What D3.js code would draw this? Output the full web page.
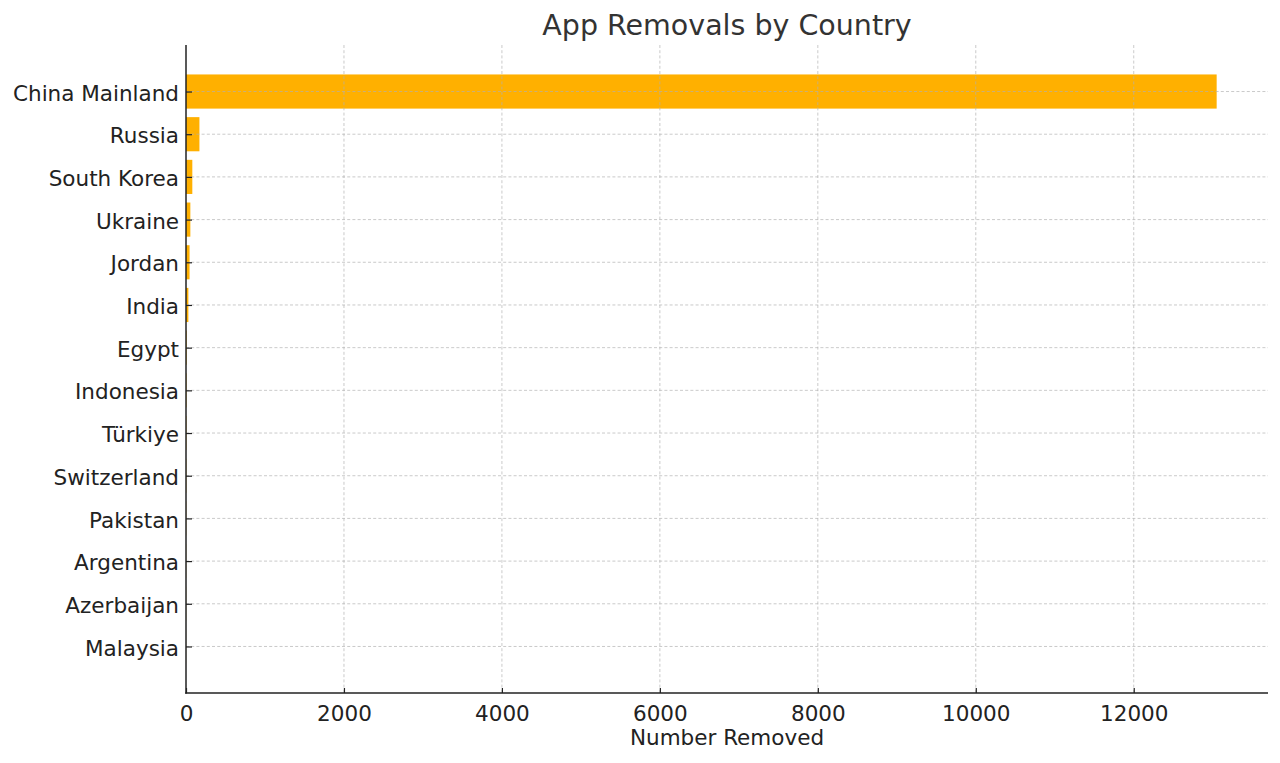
<!DOCTYPE html>
<html>
<head>
<meta charset="utf-8">
<script src="https://cdn.jsdelivr.net/npm/d3@7"></script>
<style>
  html, body { margin: 0; padding: 0; background: #fff; }
  svg { display: block; font-family: "DejaVu Sans", sans-serif; }
</style>
</head>
<body>
<svg id="chart" width="1280" height="763"></svg>
<script>
const countries = ["China Mainland", "Russia", "South Korea", "Ukraine", "Jordan", "India",
  "Egypt", "Indonesia", "Türkiye", "Switzerland", "Pakistan", "Argentina", "Azerbaijan", "Malaysia"];
const removed = [13050, 170, 80, 55, 45, 30, 8, 6, 5, 4, 3, 2, 2, 1];
const xTicks = [0, 2000, 4000, 6000, 8000, 10000, 12000];

const title = "App Removals by Country";
const xLabel = "Number Removed";

(function () {
const svg = d3.select("#chart");
const pl = 186, pr = 1268, pt = 45, pb = 693;

const x = d3.scaleLinear().domain([0, 13700]).range([pl, pr]);
const y = d3.scaleLinear().domain([-1.09, countries.length - 1 + 1.09]).range([pt, pb]);
const barH = y(0.4) - y(-0.4);

// bars
svg.append("g").selectAll("rect").data(countries).join("rect")
  .attr("x", x(0))
  .attr("y", (d, i) => y(i) - barH / 2)
  .attr("width", (d, i) => x(removed[i]) - x(0))
  .attr("height", barH)
  .attr("fill", "#ffb000");

// grid (drawn over bars)
const grid = svg.append("g").attr("stroke", "#b0b0b0").attr("stroke-opacity", 0.75)
  .attr("stroke-width", 0.9).attr("stroke-dasharray", "3,2.2");
grid.selectAll("line.v").data(xTicks.slice(1)).join("line").attr("class", "v")
  .attr("x1", d => x(d)).attr("x2", d => x(d)).attr("y1", pt).attr("y2", pb);
grid.selectAll("line.h").data(countries).join("line").attr("class", "h")
  .attr("x1", pl).attr("x2", pr).attr("y1", (d, i) => y(i)).attr("y2", (d, i) => y(i));

// x axis
const xAxis = d3.axisBottom(x).tickValues(xTicks).tickSizeInner(-5).tickSizeOuter(0).tickPadding(13).tickFormat(d3.format("d"));
const gx = svg.append("g").attr("transform", `translate(0,${pb})`).call(xAxis);
gx.select(".domain").remove();
gx.selectAll(".tick line").attr("stroke", "#222").attr("stroke-width", 1.2);
gx.selectAll(".tick text").attr("font-size", 21.5).attr("fill", "#222").attr("font-family", "DejaVu Sans");

// y axis
const yAxis = d3.axisLeft(y).tickValues(d3.range(countries.length)).tickFormat(i => countries[i])
  .tickSizeInner(-6).tickSizeOuter(0).tickPadding(7);
const gy = svg.append("g").attr("transform", `translate(${pl},0)`).call(yAxis);
gy.select(".domain").remove();
gy.selectAll(".tick line").attr("stroke", "#222").attr("stroke-width", 1.2);
gy.selectAll(".tick text").attr("font-size", 21.5).attr("fill", "#222").attr("font-family", "DejaVu Sans")
  .attr("dy", "0.4em");

// spines
svg.append("line").attr("x1", pl).attr("x2", pl).attr("y1", pt).attr("y2", pb + 0.75)
  .attr("stroke", "#222").attr("stroke-width", 1.5);
svg.append("line").attr("x1", pl - 0.75).attr("x2", pr).attr("y1", pb).attr("y2", pb)
  .attr("stroke", "#222").attr("stroke-width", 1.5);

// labels
svg.append("text").attr("x", (pl + pr) / 2).attr("y", 745).attr("text-anchor", "middle")
  .attr("font-size", 21.5).attr("fill", "#222").text(xLabel);
svg.append("text").attr("x", (pl + pr) / 2).attr("y", 35).attr("text-anchor", "middle")
  .attr("font-size", 28.5).attr("fill", "#333").text(title);
})();
</script>
</body>
</html>
